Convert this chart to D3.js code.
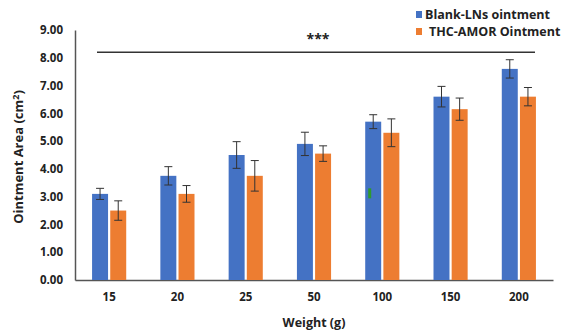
<!DOCTYPE html>
<html>
<head>
<meta charset="utf-8">
<script src="https://cdn.jsdelivr.net/npm/d3@7"></script>
<style>
  body { margin: 0; background: #fff; }
  text { font-family: "Open Sans", sans-serif; font-weight: bold; fill: #222; }
</style>
</head>
<body>
<script>
//chart data
var weights = ["15", "20", "25", "50", "100", "150", "200"];
var blankValues = [3.1, 3.75, 4.5, 4.9, 5.7, 6.6, 7.6];
var blankErrors = [0.2, 0.33, 0.48, 0.42, 0.25, 0.37, 0.33];
var thcValues = [2.5, 3.1, 3.75, 4.55, 5.3, 6.15, 6.6];
var thcErrors = [0.35, 0.3, 0.55, 0.28, 0.5, 0.4, 0.33];
var seriesNames = ["Blank-LNs ointment", "THC-AMOR Ointment"];
var yTicks = [0, 1, 2, 3, 4, 5, 6, 7, 8, 9];

window.onload = drawChart();

function drawChart(){
    var width = 568,
        height = 334;
    var colors = ["#4472C4", "#ED7D31"];

    var svg = d3.select("body")
        .append("svg")
        .attr("width", width)
        .attr("height", height);

    //scales
    var x = d3.scaleBand()
        .domain(weights)
        .range([75, 553])
        .paddingInner(0.5)
        .paddingOuter(0.25);

    var xSub = d3.scaleBand()
        .domain([0, 1])
        .range([0, x.bandwidth()])
        .paddingInner(0.12);

    var y = d3.scaleLinear()
        .domain([0, 9])
        .range([280, 30]);

    //y axis
    var yAxis = svg.append("g")
        .attr("transform", "translate(75,0)")
        .call(d3.axisLeft(y).tickValues(yTicks).tickFormat(d3.format(".2f")).tickSize(0).tickPadding(12));
    yAxis.select(".domain").attr("stroke", "#555").attr("stroke-width", 1.5);
    yAxis.selectAll("text").style("font-size", "11.5px").attr("fill", "#222");

    //x axis
    var xAxis = svg.append("g")
        .attr("transform", "translate(0,280)")
        .call(d3.axisBottom(x).tickSize(0).tickPadding(13));
    xAxis.select(".domain").attr("stroke", "#555").attr("stroke-width", 1.5);
    xAxis.selectAll("text").style("font-size", "11.5px").attr("fill", "#222");

    //bars for both series
    var series = [
        {values: blankValues, errors: blankErrors},
        {values: thcValues, errors: thcErrors}
    ];

    series.forEach(function(s, i){
        var g = svg.append("g").attr("class", "series" + i);
        var data = weights.map(function(w, j){
            return {w: w, v: s.values[j], e: s.errors[j]};
        });

        g.selectAll(".bar")
            .data(data)
            .enter()
            .append("rect")
            .attr("class", "bar")
            .attr("x", function(d){ return x(d.w) + xSub(i); })
            .attr("y", function(d){ return y(d.v); })
            .attr("width", xSub.bandwidth())
            .attr("height", function(d){ return y(0) - y(d.v); })
            .attr("fill", colors[i]);

        //error bars
        var err = g.selectAll(".err")
            .data(data)
            .enter()
            .append("g")
            .attr("class", "err")
            .attr("stroke", "#333")
            .attr("stroke-width", 1);
        var cx = function(d){ return x(d.w) + xSub(i) + xSub.bandwidth() / 2; };
        err.append("line")
            .attr("x1", cx).attr("x2", cx)
            .attr("y1", function(d){ return y(d.v - d.e); })
            .attr("y2", function(d){ return y(d.v + d.e); });
        err.append("line")
            .attr("x1", function(d){ return cx(d) - 4; })
            .attr("x2", function(d){ return cx(d) + 4; })
            .attr("y1", function(d){ return y(d.v + d.e); })
            .attr("y2", function(d){ return y(d.v + d.e); });
        err.append("line")
            .attr("x1", function(d){ return cx(d) - 4; })
            .attr("x2", function(d){ return cx(d) + 4; })
            .attr("y1", function(d){ return y(d.v - d.e); })
            .attr("y2", function(d){ return y(d.v - d.e); });
    });

    //small green mark on the 100 g blue bar
    svg.append("rect")
        .attr("x", x("100") + xSub(0) + 3)
        .attr("y", y(3.3))
        .attr("width", 3)
        .attr("height", 10)
        .attr("fill", "#2E9A2E");

    //significance line
    svg.append("line")
        .attr("x1", 97).attr("x2", 535)
        .attr("y1", y(8.2)).attr("y2", y(8.2))
        .attr("stroke", "#333")
        .attr("stroke-width", 1.5);
    svg.append("text")
        .attr("x", 318)
        .attr("y", 44)
        .attr("text-anchor", "middle")
        .style("font-size", "14px")
        .text("***");

    //axis titles
    svg.append("text")
        .attr("transform", "translate(23,157) rotate(-90)")
        .attr("text-anchor", "middle")
        .style("font-size", "13px")
        .html("Ointment Area (cm<tspan dy='-4' style='font-size:9px'>2</tspan><tspan dy='4'>)</tspan>");
    svg.append("text")
        .attr("x", 314)
        .attr("y", 327)
        .attr("text-anchor", "middle")
        .style("font-size", "12.5px")
        .text("Weight (g)");

    //legend
    var legend = svg.selectAll(".legend")
        .data(seriesNames)
        .enter()
        .append("g")
        .attr("class", "legend")
        .attr("transform", function(d, i){ return "translate(416," + (11 + i * 17) + ")"; });
    legend.append("rect")
        .attr("width", 6)
        .attr("height", 7)
        .attr("fill", function(d, i){ return colors[i]; });
    legend.append("text")
        .attr("x", function(d, i){ return i == 0 ? 9 : 13; })
        .attr("y", 8)
        .style("font-size", "12.5px")
        .text(function(d){ return d; });
}
</script>
</body>
</html>
